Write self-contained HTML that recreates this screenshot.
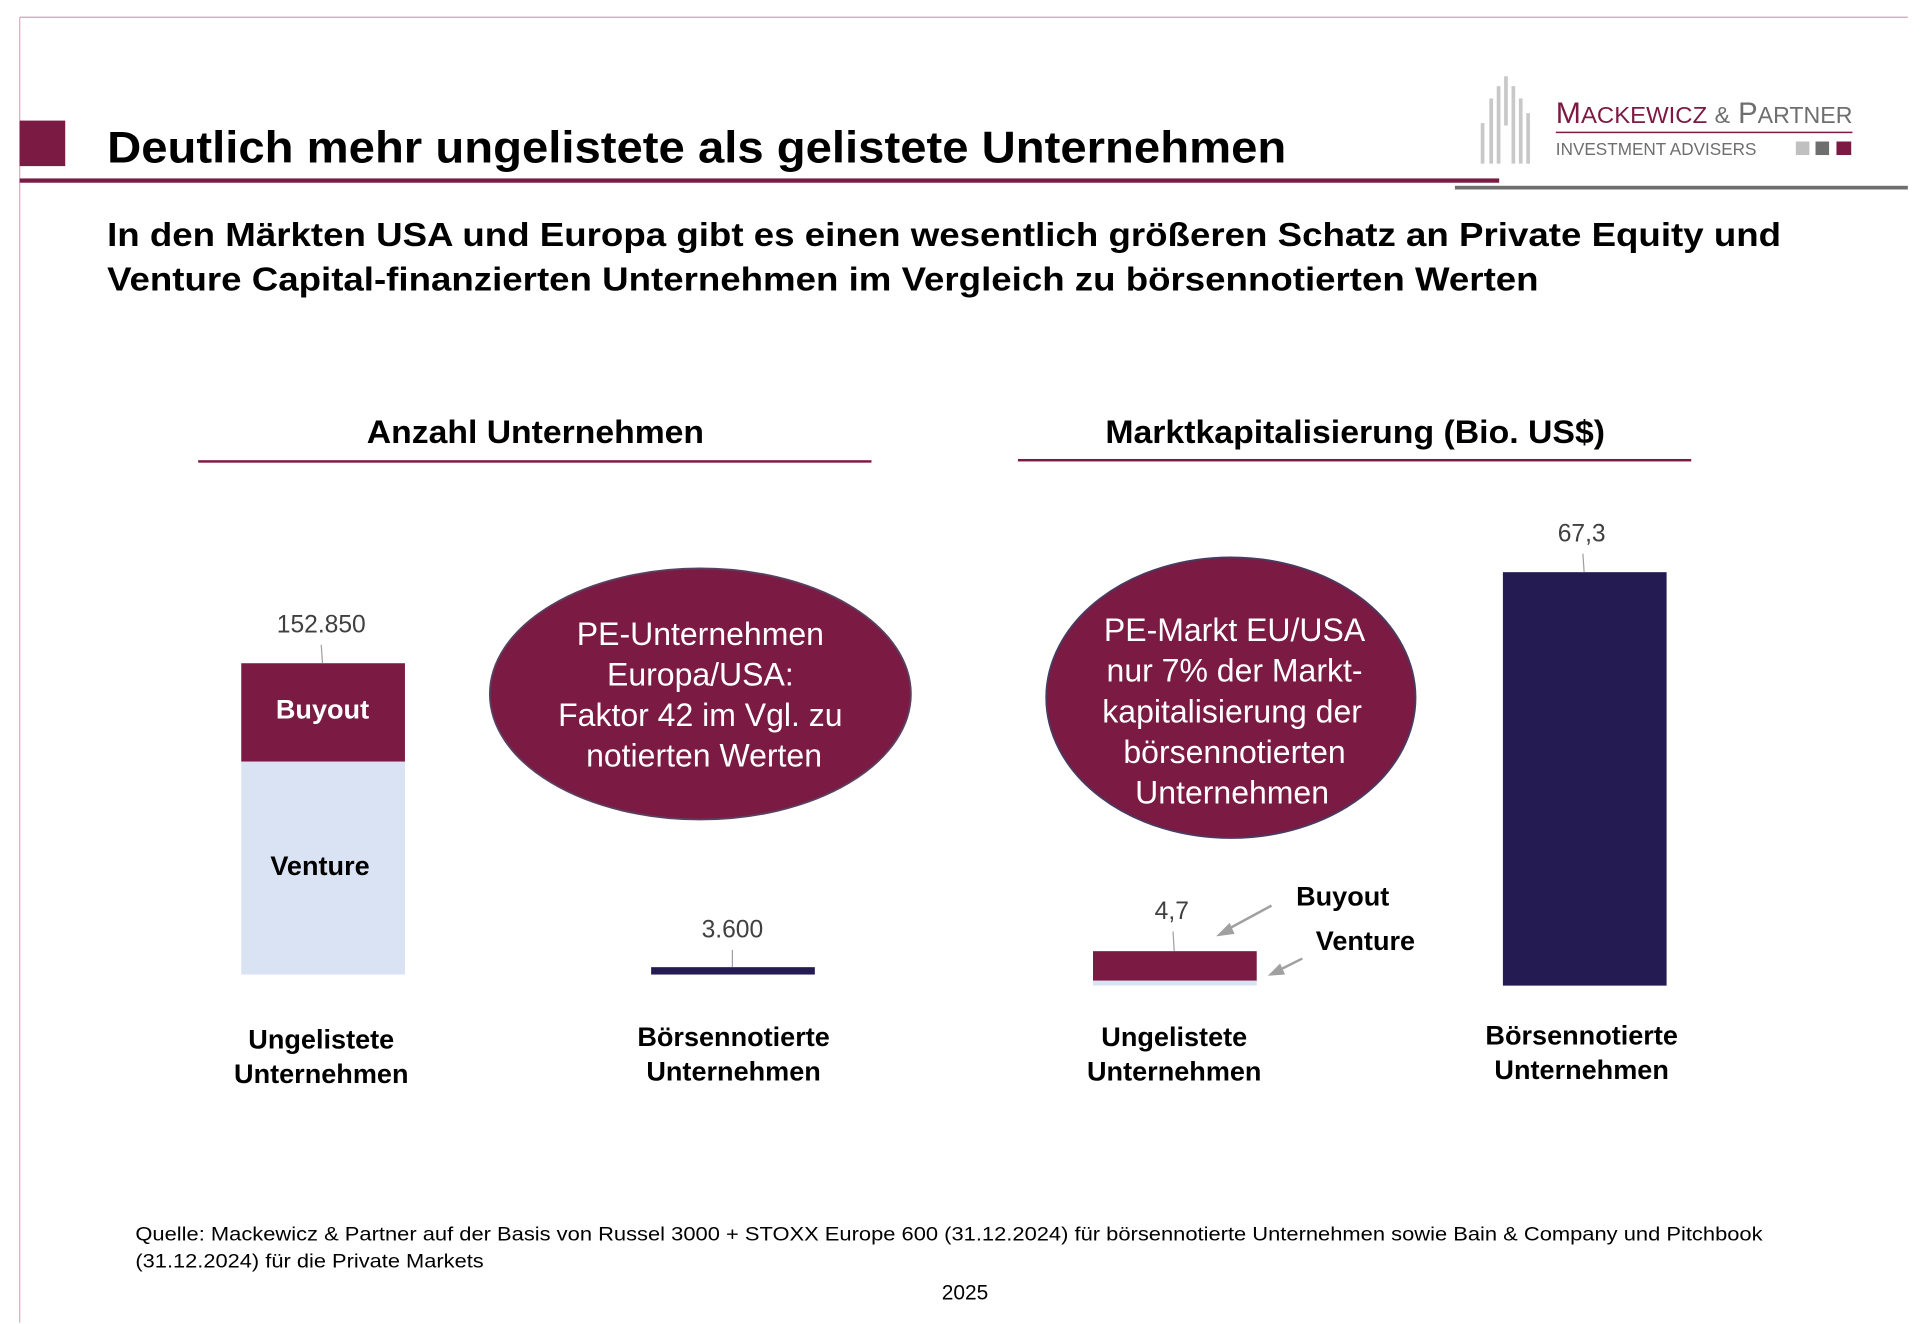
<!DOCTYPE html>
<html><head><meta charset="utf-8"><style>
html,body{margin:0;padding:0;background:#fff}
svg{display:block}
text{font-family:"Liberation Sans",Arial,sans-serif}
</style></head><body>
<svg width="1930" height="1324" viewBox="0 0 1568 1076" preserveAspectRatio="none" xmlns="http://www.w3.org/2000/svg">
<rect width="1568" height="1076" fill="#fff"/>
<line x1="16" y1="14" x2="1550" y2="14" stroke="#c9a8b8" stroke-width="1"/>
<line x1="16" y1="14" x2="16" y2="1075" stroke="#d6b0c0" stroke-width="1"/>
<rect x="16" y="98" width="37" height="37" fill="#7b1a42"/>
<text x="87" y="132" font-size="36" font-weight="bold" textLength="958" lengthAdjust="spacingAndGlyphs">Deutlich mehr ungelistete als gelistete Unternehmen</text>
<rect x="16" y="145" width="1202" height="3.5" fill="#7b1a42"/>
<rect x="1182" y="151" width="368" height="3" fill="#6e6e6e"/>
<!-- logo -->
<g fill="#c8c8c8">
<rect x="1203" y="100" width="3" height="33"/><rect x="1210" y="80" width="3" height="53"/>
<rect x="1216" y="70" width="3" height="63"/><rect x="1222" y="62" width="3" height="40"/>
<rect x="1228" y="70" width="3" height="63"/><rect x="1234" y="80" width="3" height="53"/>
<rect x="1240" y="92" width="3" height="41"/>
</g>
<text x="1264" y="100" font-size="24" fill="#7b1a42" textLength="123" lengthAdjust="spacingAndGlyphs">M<tspan font-size="19">ACKEWICZ</tspan></text>
<text x="1393" y="100" font-size="24" fill="#6e6e6e" textLength="112" lengthAdjust="spacingAndGlyphs"><tspan font-size="19">&amp;</tspan> P<tspan font-size="19">ARTNER</tspan></text>
<rect x="1264" y="107" width="241" height="1.2" fill="#7b1a42"/>
<text x="1264" y="126" font-size="14" fill="#6e6e6e" textLength="163" lengthAdjust="spacingAndGlyphs">INVESTMENT ADVISERS</text>
<rect x="1459" y="115" width="11" height="11" fill="#c0c0c0"/>
<rect x="1475" y="115" width="11" height="11" fill="#6e6e6e"/>
<rect x="1492" y="115" width="12" height="11" fill="#7b1a42"/>
<!-- subtitle -->
<text x="87" y="200" font-size="27" font-weight="bold" textLength="1360" lengthAdjust="spacingAndGlyphs">In den Märkten USA und Europa gibt es einen wesentlich größeren Schatz an Private Equity und</text>
<text x="87" y="236" font-size="27" font-weight="bold" textLength="1163" lengthAdjust="spacingAndGlyphs">Venture Capital-finanzierten Unternehmen im Vergleich zu börsennotierten Werten</text>
<!-- section headers -->
<text x="298" y="360" font-size="26" font-weight="bold" textLength="274" lengthAdjust="spacingAndGlyphs">Anzahl Unternehmen</text>
<rect x="161" y="374" width="547" height="2" fill="#7b1a42"/>
<text x="898" y="360" font-size="26" font-weight="bold" textLength="406" lengthAdjust="spacingAndGlyphs">Marktkapitalisierung (Bio. US$)</text>
<rect x="827" y="373" width="547" height="2" fill="#7b1a42"/>
<!-- bar 1 -->
<rect x="196" y="539" width="133" height="80" fill="#7b1a42"/>
<rect x="196" y="619" width="133" height="173" fill="#dae3f3"/>
<text x="262" y="584" font-size="22" font-weight="bold" fill="#fff" text-anchor="middle">Buyout</text>
<text x="260" y="711" font-size="22" font-weight="bold" text-anchor="middle">Venture</text>
<text x="261" y="514" font-size="20" fill="#404040" text-anchor="middle">152.850</text>
<line x1="261" y1="524" x2="262" y2="539" stroke="#a0a0a0" stroke-width="1"/>
<!-- ellipse 1 -->
<ellipse cx="569" cy="564" rx="171" ry="102" fill="#7b1a42" stroke="#5a4060" stroke-width="1.5"/>
<g font-size="26" fill="#fff" text-anchor="middle">
<text x="569" y="524">PE-Unternehmen</text>
<text x="569" y="557">Europa/USA:</text>
<text x="569" y="590">Faktor 42 im Vgl. zu</text>
<text x="572" y="623">notierten Werten</text>
</g>
<!-- bar 2 -->
<rect x="529" y="786" width="133" height="6" fill="#231b52"/>
<text x="595" y="762" font-size="20" fill="#404040" text-anchor="middle">3.600</text>
<line x1="595" y1="772" x2="595" y2="786" stroke="#a0a0a0" stroke-width="1"/>
<!-- ellipse 2 -->
<ellipse cx="1000" cy="567" rx="150" ry="114" fill="#7b1a42" stroke="#4a3a60" stroke-width="1.5"/>
<g font-size="26" fill="#fff" text-anchor="middle">
<text x="1003" y="521">PE-Markt EU/USA</text>
<text x="1003" y="554">nur 7% der Markt-</text>
<text x="1001" y="587">kapitalisierung der</text>
<text x="1003" y="620">börsennotierten</text>
<text x="1001" y="653">Unternehmen</text>
</g>
<!-- bar 3 -->
<rect x="888" y="773" width="133" height="24" fill="#7b1a42"/>
<rect x="888" y="797" width="133" height="4" fill="#dae3f3"/>
<text x="952" y="747" font-size="20" fill="#404040" text-anchor="middle">4,7</text>
<line x1="953" y1="757" x2="954" y2="773" stroke="#a0a0a0" stroke-width="1"/>
<g stroke="#a0a0a0" stroke-width="2" fill="#a0a0a0">
<line x1="1033" y1="736" x2="996" y2="756"/>
<polygon points="988,761 999,750 1003,759" stroke="none"/>
<line x1="1058" y1="779" x2="1038" y2="789"/>
<polygon points="1030,793 1040,783 1044,792" stroke="none"/>
</g>
<text x="1053" y="736" font-size="22" font-weight="bold">Buyout</text>
<text x="1069" y="772" font-size="22" font-weight="bold">Venture</text>
<!-- bar 4 -->
<rect x="1221" y="465" width="133" height="336" fill="#231b52"/>
<text x="1285" y="440" font-size="20" fill="#404040" text-anchor="middle">67,3</text>
<line x1="1286" y1="450" x2="1287" y2="465" stroke="#a0a0a0" stroke-width="1"/>
<!-- category labels -->
<g font-size="22" font-weight="bold" text-anchor="middle">
<text x="261" y="852">Ungelistete</text><text x="261" y="880">Unternehmen</text>
<text x="596" y="850">Börsennotierte</text><text x="596" y="878">Unternehmen</text>
<text x="954" y="850">Ungelistete</text><text x="954" y="878">Unternehmen</text>
<text x="1285" y="849">Börsennotierte</text><text x="1285" y="877">Unternehmen</text>
</g>
<!-- footnote -->
<text x="110" y="1008" font-size="16" textLength="1322" lengthAdjust="spacingAndGlyphs">Quelle: Mackewicz &amp; Partner auf der Basis von Russel 3000 + STOXX Europe 600  (31.12.2024) für börsennotierte Unternehmen sowie Bain &amp; Company und Pitchbook</text>
<text x="110" y="1030" font-size="16" textLength="283" lengthAdjust="spacingAndGlyphs">(31.12.2024) für die Private Markets</text>
<text x="784" y="1056" font-size="17" text-anchor="middle">2025</text>
</svg>
</body></html>
